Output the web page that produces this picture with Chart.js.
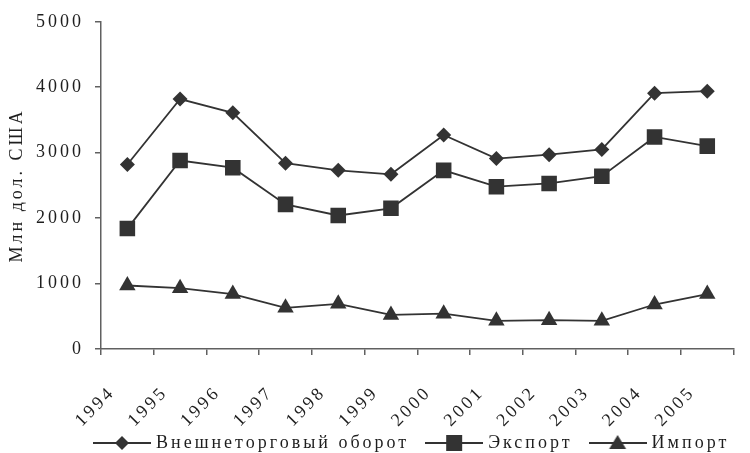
<!DOCTYPE html>
<html><head><meta charset="utf-8">
<script src="https://cdn.jsdelivr.net/npm/chart.js@4"></script>
<style>html,body{margin:0;padding:0;background:#fff}#wrap{width:750px;height:453px}</style>
</head><body><div id="wrap"><canvas id="c" width="750" height="453"></canvas></div>
<script>
const years = ['1994','1995','1996','1997','1998','1999','2000','2001','2002','2003','2004','2005'];
const turnover = [2820, 3820, 3610, 2840, 2730, 2670, 3270, 2910, 2970, 3050, 3910, 3940];
const exportVals = [1840, 2880, 2770, 2210, 2040, 2150, 2730, 2480, 2530, 2640, 3240, 3100];
const importVals = [970, 930, 840, 630, 690, 520, 540, 430, 440, 430, 680, 840];
const seriesNames = ['Внешнеторговый оборот', 'Экспорт', 'Импорт'];
const yTitle = 'Млн дол. США';

const INK = '#333333';
const AXIS = '#606060';
const TEXT = '#1e1e1e';
const FONT = 'Liberation Serif';
const LEGEND_PAD = 20;

function legendSymbol(kind) {
  const c = document.createElement('canvas');
  c.width = 58; c.height = 20;
  const g = c.getContext('2d');
  g.strokeStyle = INK; g.lineWidth = 1.8;
  g.beginPath(); g.moveTo(0, 10); g.lineTo(58, 10); g.stroke();
  g.fillStyle = INK;
  g.beginPath();
  if (kind === 'diamond') { g.moveTo(29, 3); g.lineTo(36, 10); g.lineTo(29, 17); g.lineTo(22, 10); }
  else if (kind === 'square') { g.rect(21, 2, 16, 16); }
  else { g.moveTo(29, 2); g.lineTo(37.5, 16); g.lineTo(20.5, 16); }
  g.closePath(); g.fill();
  return c;
}
const symbols = [legendSymbol('diamond'), legendSymbol('square'), legendSymbol('triangle')];

const tweaks = {
  id: 'tweaks',
  beforeUpdate(chart) { chart.ctx.letterSpacing = '3px'; },
  afterLayout(chart) {
    const lg = chart.legend;
    if (lg && lg.lineWidths) {
      const start = (lg.left + LEGEND_PAD + lg.right - lg.lineWidths[0]) / 2;
      const shift = 97 - start;
      lg.left += shift; lg.right += shift;
    }
    const x = chart.scales.x;
    if (x) x.bottom = chart.height;
  },
  beforeDraw(chart) { chart.ctx.letterSpacing = '3px'; }
};

new Chart(document.getElementById('c'), {
  type: 'line',
  data: {
    labels: years,
    datasets: [
      { label: seriesNames[0], data: turnover, pointStyle: 'rectRot', pointRadius: 7.5 },
      { label: seriesNames[1], data: exportVals, pointStyle: 'rect', pointRadius: 11 },
      { label: seriesNames[2], data: importVals, pointStyle: 'triangle', pointRadius: 9.5 }
    ].map(d => Object.assign({
      borderColor: INK, backgroundColor: INK, borderWidth: 1.8,
      pointBackgroundColor: INK, pointBorderColor: INK, pointBorderWidth: 0,
      pointHoverRadius: d.pointRadius, tension: 0
    }, d))
  },
  options: {
    responsive: false,
    animation: false,
    devicePixelRatio: 1,
    layout: { padding: { left: 0, right: 1, top: 19, bottom: 0 } },
    plugins: {
      tooltip: { enabled: false },
      legend: {
        position: 'bottom',
        fullSize: true,
        maxHeight: 39,
        labels: {
          usePointStyle: true,
          pointStyleWidth: 50,
          padding: LEGEND_PAD,
          color: TEXT,
          font: { family: FONT, size: 18 },
          generateLabels(chart) {
            return chart.data.datasets.map((d, i) => ({
              text: d.label, pointStyle: symbols[i], fillStyle: INK, strokeStyle: INK,
              lineWidth: 0, hidden: false, datasetIndex: i, fontColor: TEXT
            }));
          }
        }
      }
    },
    scales: {
      x: {
        type: 'category',
        offset: true,
        grid: { offset: true, drawOnChartArea: false, drawTicks: true, tickLength: 6, color: AXIS, lineWidth: 1.5 },
        border: { display: true, color: AXIS, width: 1.5 },
        ticks: { color: TEXT, font: { family: FONT, size: 18 }, maxRotation: 45, minRotation: 45, autoSkip: false, labelOffset: -15, padding: 27 },
        afterFit(s) { s.height = 65; }
      },
      y: {
        min: 0, max: 5000,
        grid: { drawOnChartArea: false, drawTicks: true, tickLength: 6, color: AXIS, lineWidth: 1.5 },
        border: { display: true, color: AXIS, width: 1.5 },
        ticks: { stepSize: 1000, color: TEXT, font: { family: FONT, size: 18 }, padding: 11, callback: v => String(v) },
        title: { display: true, text: yTitle, color: TEXT, font: { family: FONT, size: 18 }, padding: { top: 6, bottom: 0 } },
        afterFit(s) { s.width = 101; }
      }
    }
  },
  plugins: [tweaks]
});
</script>
</body></html>
